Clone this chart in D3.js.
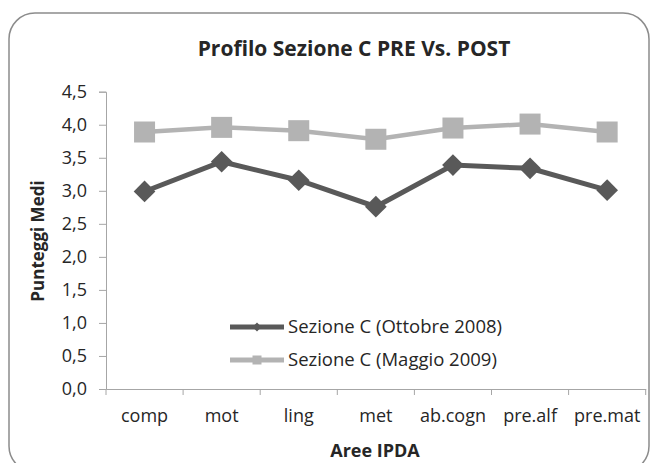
<!DOCTYPE html>
<html>
<head>
    <meta charset="utf-8">
    <title>Profilo Sezione C</title>
    <script src="https://cdn.jsdelivr.net/npm/d3@7/dist/d3.min.js"></script>
    <style>
        html, body {
            margin: 0;
            padding: 0;
            background: #fff;
        }
        svg text {
            font-family: "Open Sans", "Noto Sans", sans-serif;
            fill: #262626;
        }
    </style>
</head>
<body>
    <svg class="main" width="650" height="463"></svg>
</body>
<script>
    // dati
    var categories = ["comp", "mot", "ling", "met", "ab.cogn", "pre.alf", "pre.mat"];
    var ottobre2008 = [2.99, 3.44, 3.16, 2.76, 3.39, 3.34, 3.01];
    var maggio2009 = [3.89, 3.96, 3.91, 3.78, 3.95, 4.01, 3.89];
    var yTicks = [0, 0.5, 1, 1.5, 2, 2.5, 3, 3.5, 4, 4.5];
    var seriesNames = ["Sezione C (Ottobre 2008)", "Sezione C (Maggio 2009)"];

    var darkCol = "#595959", lightCol = "#b3b3b3", axisCol = "#a6a6a6";

    var svg = d3.select("svg");

    // cornice arrotondata
    svg.append("rect")
        .attr("x", 9).attr("y", 13)
        .attr("width", 640).attr("height", 459)
        .attr("rx", 26).attr("ry", 26)
        .attr("fill", "#fff")
        .attr("stroke", "#8c8c8c")
        .attr("stroke-width", 1.5);

    var plotL = 106, plotR = 645.7, plotT = 91.7, plotB = 389;

    var x = d3.scaleBand().domain(categories).range([plotL, plotR]);
    var y = d3.scaleLinear().domain([0, 4.5]).range([plotB, plotT]);

    var fmt = function (d) { return d.toFixed(1).replace(".", ","); };

    // asse y
    var gy = svg.append("g")
        .attr("transform", "translate(" + plotL + ",0)")
        .call(d3.axisLeft(y).tickValues(yTicks).tickFormat(fmt).tickSize(7).tickPadding(12));
    gy.select(".domain").attr("stroke", axisCol);
    gy.selectAll(".tick line").attr("stroke", axisCol);
    gy.selectAll(".tick text")
        .style("font-size", "18px")
        .style("font-family", "'Open Sans', sans-serif")
        .attr("fill", "#262626");

    // asse x
    var gx = svg.append("g")
        .attr("transform", "translate(0," + plotB + ")")
        .call(d3.axisBottom(x).tickSize(0).tickPadding(20));
    gx.select(".domain").attr("stroke", axisCol);
    gx.selectAll(".tick text")
        .style("font-size", "18px")
        .style("font-family", "'Open Sans', sans-serif")
        .attr("fill", "#262626");
    // tacche tra le categorie
    var edges = categories.map(function (c) { return x(c); }).concat([plotR]);
    gx.selectAll(".edge").data(edges).enter().append("line")
        .attr("x1", function (d) { return d; }).attr("x2", function (d) { return d; })
        .attr("y1", 0).attr("y2", 6)
        .attr("stroke", axisCol);

    var cx = function (d, i) { return x(categories[i]) + x.bandwidth() / 2; };

    var line = d3.line()
        .x(function (d, i) { return cx(d, i); })
        .y(function (d) { return y(d); });

    // serie Maggio 2009
    svg.append("path").datum(maggio2009)
        .attr("d", line)
        .attr("fill", "none")
        .attr("stroke", lightCol)
        .attr("stroke-width", 4.5);
    svg.selectAll(".sq").data(maggio2009).enter().append("rect")
        .attr("x", function (d, i) { return cx(d, i) - 10.5; })
        .attr("y", function (d) { return y(d) - 10.5; })
        .attr("width", 21).attr("height", 21)
        .attr("fill", lightCol);

    // serie Ottobre 2008
    svg.append("path").datum(ottobre2008)
        .attr("d", line)
        .attr("fill", "none")
        .attr("stroke", darkCol)
        .attr("stroke-width", 5);
    var diamond = d3.symbol().type(d3.symbolDiamond2).size(300);
    svg.selectAll(".dm").data(ottobre2008).enter().append("path")
        .attr("transform", function (d, i) { return "translate(" + cx(d, i) + "," + y(d) + ")"; })
        .attr("d", diamond)
        .attr("fill", darkCol);

    // legenda
    var legend = svg.append("g");
    var legY = [327, 360];
    var legCol = [darkCol, lightCol];
    legY.forEach(function (ly, i) {
        legend.append("line")
            .attr("x1", 230).attr("x2", 284)
            .attr("y1", ly).attr("y2", ly)
            .attr("stroke", legCol[i])
            .attr("stroke-width", 5);
        if (i === 0) {
            legend.append("path")
                .attr("transform", "translate(257," + ly + ")")
                .attr("d", d3.symbol().type(d3.symbolDiamond2).size(50))
                .attr("fill", legCol[i]);
        } else {
            legend.append("rect")
                .attr("x", 252.5).attr("y", ly - 4.5)
                .attr("width", 9).attr("height", 9)
                .attr("fill", legCol[i]);
        }
        legend.append("text")
            .attr("x", 288).attr("y", ly)
            .attr("dy", "0.35em")
            .style("font-size", "18.5px")
            .text(seriesNames[i]);
    });

    // titoli
    svg.append("text")
        .attr("x", 354).attr("y", 56)
        .attr("text-anchor", "middle")
        .style("font-size", "21px")
        .style("font-weight", "bold")
        .text("Profilo Sezione C PRE Vs. POST");

    svg.append("text")
        .attr("transform", "translate(44,241) rotate(-90)")
        .attr("text-anchor", "middle")
        .style("font-size", "17px")
        .style("font-weight", "bold")
        .text("Punteggi Medi");

    svg.append("text")
        .attr("x", 375).attr("y", 457)
        .attr("text-anchor", "middle")
        .style("font-size", "18px")
        .style("font-weight", "bold")
        .text("Aree IPDA");
</script>
</html>
